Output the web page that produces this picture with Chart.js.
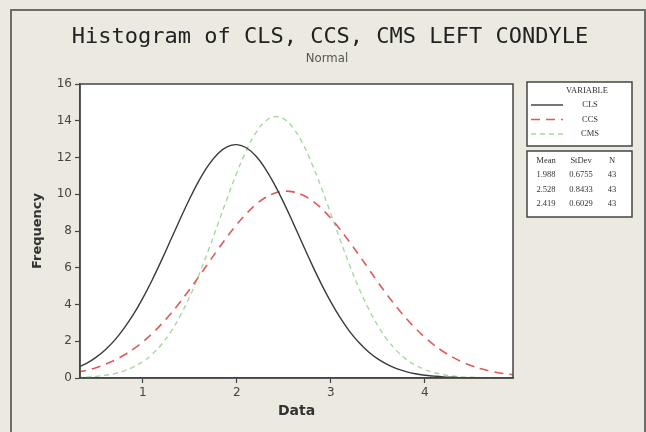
<!DOCTYPE html>
<html>
<head>
<meta charset="utf-8">
<script src="https://cdn.jsdelivr.net/npm/chart.js@4/dist/chart.umd.min.js"></script>
<style>
  html, body { margin: 0; padding: 0; background: #ECEAE0; }
  #wrap { width: 646px; height: 432px; }
</style>
</head>
<body>
<div id="wrap"><canvas id="histo" width="646" height="432"></canvas></div>
<script>
// fitted normal curves (Frequency vs Data)
const xValues = [0.3, 0.4, 0.5, 0.6, 0.7, 0.8, 0.9, 1.0, 1.1, 1.2, 1.3, 1.4, 1.5, 1.6, 1.7, 1.8, 1.9, 2.0,
    2.1, 2.2, 2.3, 2.4, 2.5, 2.6, 2.7, 2.8, 2.9, 3.0, 3.1, 3.2, 3.3, 3.4, 3.5, 3.6, 3.7, 3.8, 3.9, 4.0,
    4.1, 4.2, 4.3, 4.4, 4.5, 4.6, 4.7, 4.8, 4.9, 5.0];
const clsValues = [0.56, 0.80, 1.12, 1.54, 2.06, 2.71, 3.47, 4.36, 5.35, 6.43, 7.56, 8.69, 9.78, 10.77, 11.60, 12.22, 12.59, 12.70,
    12.53, 12.09, 11.41, 10.54, 9.53, 8.43, 7.29, 6.17, 5.11, 4.14, 3.28, 2.54, 1.93, 1.43, 1.04, 0.74, 0.51, 0.35, 0.23, 0.15,
    0.10, 0.06, 0.04, 0.02, 0.013, 0.007, 0.004, 0.002, 0.001, 0.001];
const ccsValues = [0.31, 0.42, 0.56, 0.75, 0.97, 1.25, 1.58, 1.97, 2.43, 2.94, 3.52, 4.16, 4.84, 5.55, 6.28, 7.01, 7.71, 8.36,
    8.94, 9.43, 9.81, 10.05, 10.16, 10.13, 9.96, 9.66, 9.23, 8.70, 8.08, 7.40, 6.69, 5.96, 5.23, 4.53, 3.87, 3.26, 2.71, 2.22,
    1.79, 1.43, 1.12, 0.87, 0.66, 0.50, 0.37, 0.27, 0.20, 0.14];
const cmsValues = [0.03, 0.05, 0.09, 0.15, 0.24, 0.39, 0.60, 0.89, 1.30, 1.84, 2.54, 3.41, 4.45, 5.66, 6.99, 8.40, 9.82, 11.18,
    12.37, 13.32, 13.96, 14.22, 14.10, 13.60, 12.77, 11.65, 10.35, 8.95, 7.52, 6.15, 4.89, 3.79, 2.85, 2.09, 1.49, 1.03, 0.70, 0.46,
    0.29, 0.18, 0.11, 0.06, 0.04, 0.02, 0.011, 0.006, 0.003, 0.001];

const seriesNames = ['CLS', 'CCS', 'CMS'];
const statHeader = ['Mean', 'StDev', 'N'];
const statRows = [
    ['1.988', '0.6755', '43'],
    ['2.528', '0.8433', '43'],
    ['2.419', '0.6029', '43']
];
const xTicks = [1, 2, 3, 4];
const yTicks = [0, 2, 4, 6, 8, 10, 12, 14, 16];

const lineColors = ['#3a3a3a', '#e05a5a', '#a6d8a0'];
const lineDash = [[], [9, 6], [5, 4]];
const lineWidths = [1.4, 1.6, 1.4];

const toPoints = (vals) => vals.map((v, i) => ({ x: xValues[i], y: v }));

/**
 * Frame, titles and the two boxes on the right (Minitab style)
 */
const minitabFrame = {
    id: 'minitabFrame',
    beforeDraw: (chart) => {
        const { ctx, chartArea: { left, right, top, bottom } } = chart;
        ctx.save();
        ctx.fillStyle = '#ECEAE0';
        ctx.fillRect(0, 0, chart.width, chart.height);
        ctx.strokeStyle = '#6d6d6a';
        ctx.lineWidth = 2;
        ctx.beginPath();
        ctx.moveTo(11, 440);
        ctx.lineTo(11, 10);
        ctx.lineTo(645, 10);
        ctx.lineTo(645, 440);
        ctx.stroke();
        ctx.fillStyle = '#ffffff';
        ctx.fillRect(left, top, right - left, bottom - top);
        ctx.restore();
    },
    afterDraw: (chart) => {
        const { ctx, chartArea: { left, right, top, bottom } } = chart;
        ctx.save();
        // box round the data area
        ctx.strokeStyle = '#444';
        ctx.lineWidth = 1.5;
        ctx.strokeRect(left, top, right - left, bottom - top);

        ctx.textAlign = 'center';
        ctx.textBaseline = 'middle';
        ctx.fillStyle = '#222';
        ctx.font = '22px "DejaVu Sans Mono"';
        ctx.fillText('Histogram of CLS, CCS, CMS LEFT CONDYLE', 330, 37);
        ctx.fillStyle = '#555';
        ctx.font = '13px "DejaVu Sans Condensed", "DejaVu Sans"';
        ctx.fillText('Normal', 327, 59);

        // legend box
        ctx.fillStyle = '#ffffff';
        ctx.fillRect(527, 82, 105, 64);
        ctx.strokeRect(527, 82, 105, 64);
        ctx.fillRect(527, 151, 105, 66);
        ctx.strokeRect(527, 151, 105, 66);

        ctx.fillStyle = '#333';
        ctx.font = '8.5px "Liberation Serif"';
        ctx.fillText('VARIABLE', 587, 91);
        seriesNames.forEach((name, i) => {
            const y = 105 + i * 14.5;
            ctx.save();
            ctx.strokeStyle = lineColors[i];
            ctx.lineWidth = lineWidths[i];
            ctx.setLineDash(lineDash[i]);
            ctx.beginPath();
            ctx.moveTo(531, y);
            ctx.lineTo(563, y);
            ctx.stroke();
            ctx.restore();
            ctx.fillText(name, 590, y);
        });

        // stats box
        const cols = [546, 581, 612];
        statHeader.forEach((h, j) => ctx.fillText(h, cols[j], 161));
        statRows.forEach((row, i) => {
            row.forEach((txt, j) => ctx.fillText(txt, cols[j], 175 + i * 14.5));
        });
        ctx.restore();
    }
};

const mainChart = new Chart(document.getElementById('histo'), {
    type: 'line',
    data: {
        datasets: [clsValues, ccsValues, cmsValues].map((vals, i) => ({
            label: seriesNames[i],
            data: toPoints(vals),
            borderColor: lineColors[i],
            borderWidth: lineWidths[i],
            borderDash: lineDash[i],
            pointRadius: 0,
            tension: 0.4,
            fill: false
        }))
    },
    options: {
        responsive: false,
        animation: false,
        events: [],
        layout: { padding: { left: 0, top: 84, right: 133, bottom: 0 } },
        plugins: { legend: false, tooltip: false, title: false },
        scales: {
            x: {
                type: 'linear',
                min: 0.33,
                max: 4.94,
                afterBuildTicks: (scale) => { scale.ticks = xTicks.map(v => ({ value: v })); },
                afterFit: (scale) => { scale.height = 54; },
                grid: { drawOnChartArea: false, tickLength: 5, color: '#444', tickWidth: 1.2 },
                border: { color: '#444', width: 1.5 },
                ticks: { color: '#444', font: { family: '"DejaVu Sans"', size: 12 }, padding: 3 },
                title: {
                    display: true, text: 'Data', color: '#333',
                    font: { family: '"DejaVu Sans"', size: 14, weight: 'bold' },
                    padding: { top: 0, bottom: 12 }
                }
            },
            y: {
                min: 0,
                max: 16,
                afterBuildTicks: (scale) => { scale.ticks = yTicks.map(v => ({ value: v })); },
                afterFit: (scale) => { scale.width = 80; },
                grid: { drawOnChartArea: false, tickLength: 5, color: '#444', tickWidth: 1.2 },
                border: { color: '#444', width: 1.5 },
                ticks: { color: '#444', font: { family: '"DejaVu Sans"', size: 12 }, padding: 3 },
                title: {
                    display: true, text: 'Frequency', color: '#333',
                    font: { family: '"DejaVu Sans"', size: 13, weight: 'bold' },
                    padding: { top: 30, bottom: 0 }
                }
            }
        }
    },
    plugins: [minitabFrame]
});
</script>
</body>
</html>
